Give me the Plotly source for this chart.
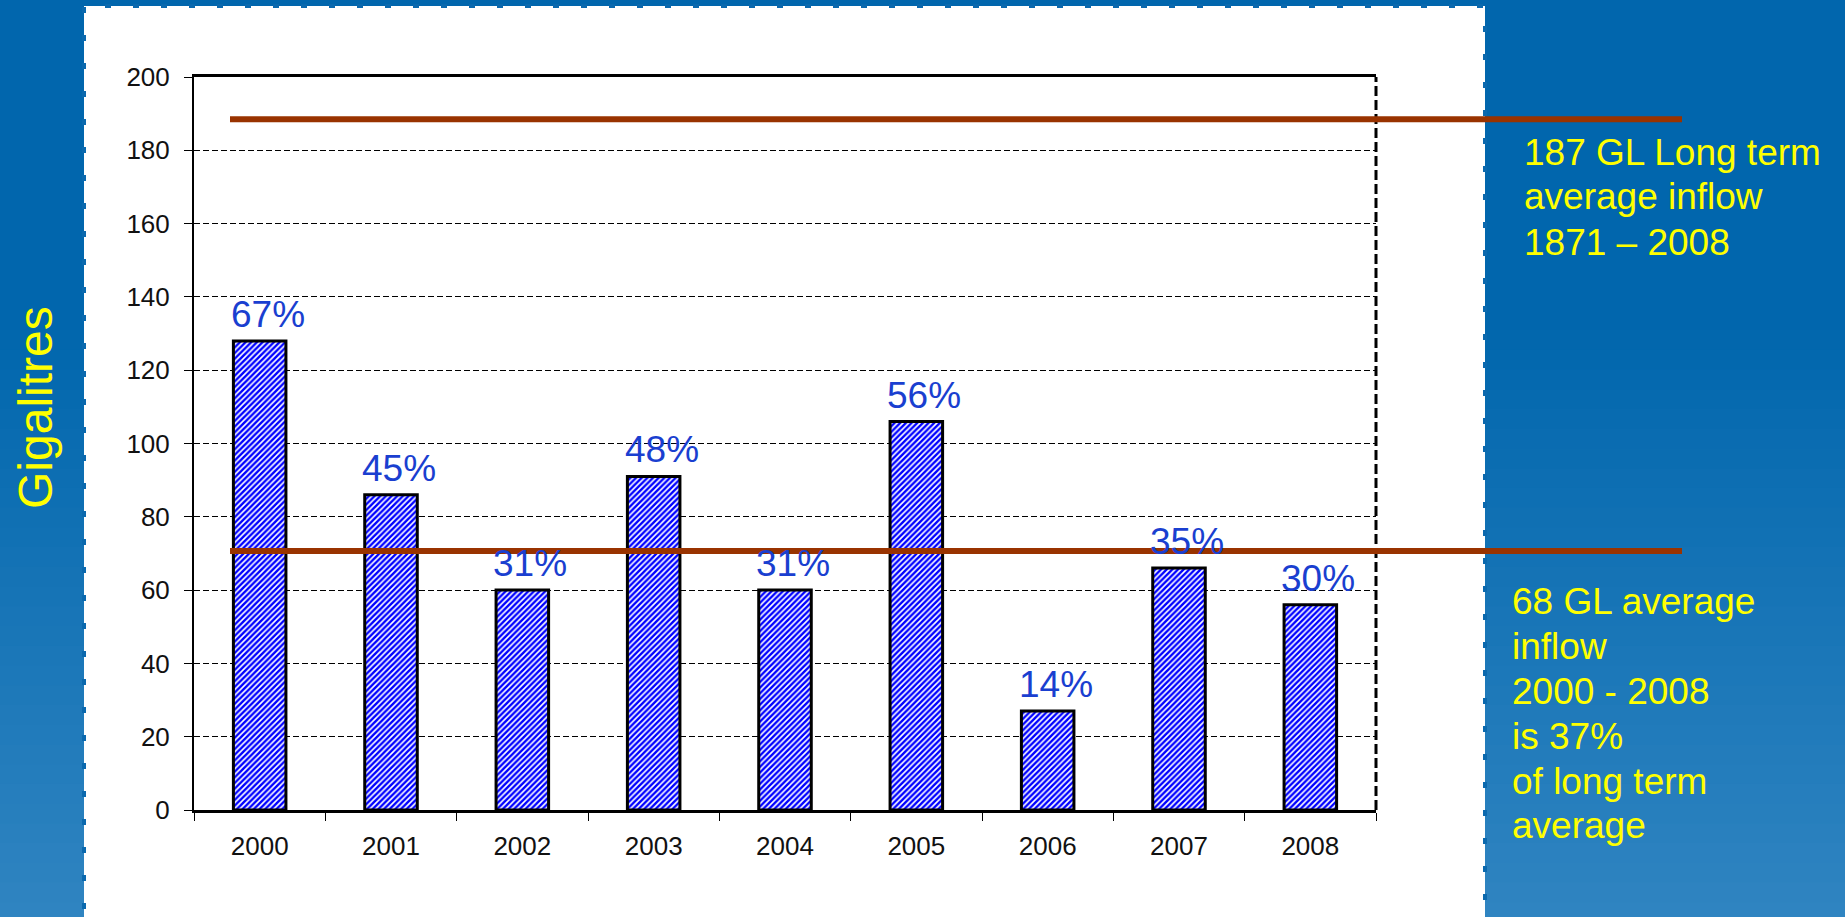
import plotly.graph_objects as go

# ---- data ----
years = ["2000", "2001", "2002", "2003", "2004", "2005", "2006", "2007", "2008"]
inflow_gl = [128, 86, 60, 91, 60, 106, 27, 66, 56]
pct_of_long_term = ["67%", "45%", "31%", "48%", "31%", "56%", "14%", "35%", "30%"]
long_term_line = 188.5
recent_avg_line = 70.7
y_ticks = [0, 20, 40, 60, 80, 100, 120, 140, 160, 180, 200]
note_long_term = ["187 GL Long term", "average inflow", "1871 – 2008"]
note_recent = ["68 GL average", "inflow", "2000 - 2008", "is 37%", "of long term", "average"]
y_title = "Gigalitres"

W, H = 1845, 917
ML, MR, MT, MB = 194, 469, 77, 107
pw = W - ML - MR
ph = H - MT - MB


def px_to_paper_x(px):
    return (px - ML) / pw


def px_to_paper_y(py):
    return (H - MB - py) / ph


FONT = "Liberation Sans, Arial, sans-serif"
YELLOW = "#ffff00"

fig = go.Figure()
fig.add_trace(go.Bar(
    x=years, y=inflow_gl,
    width=0.40,
    marker=dict(
        color="white",
        line=dict(color="black", width=3),
        pattern=dict(shape="/", fgcolor="#0000ff", bgcolor="white",
                     size=4, solidity=0.6, fillmode="replace"),
    ),
    hoverinfo="skip",
))

shapes = []
# background gradient (top dark blue -> lighter at bottom)
top_c = (1, 102, 173)
bot_c = (48, 133, 193)
start_px = 330
n = 30
shapes.append(dict(type="rect", xref="paper", yref="paper",
                   x0=px_to_paper_x(-5), x1=px_to_paper_x(W + 5),
                   y0=px_to_paper_y(-5), y1=px_to_paper_y(start_px + 1),
                   fillcolor="rgb(%d,%d,%d)" % top_c, line=dict(width=0), layer="below"))
for i in range(n):
    y0 = start_px + (H + 5 - start_px) * i / n
    y1 = start_px + (H + 5 - start_px) * (i + 1) / n + 1
    t = (i + 0.5) / n
    c = tuple(int(round(top_c[k] + (bot_c[k] - top_c[k]) * t)) for k in range(3))
    shapes.append(dict(type="rect", xref="paper", yref="paper",
                       x0=px_to_paper_x(-5), x1=px_to_paper_x(W + 5),
                       y0=px_to_paper_y(y1), y1=px_to_paper_y(y0),
                       fillcolor="rgb(%d,%d,%d)" % c, line=dict(width=0), layer="below"))
# white chart panel with notched (dashed) border
shapes.append(dict(type="rect", xref="paper", yref="paper",
                   x0=px_to_paper_x(84), x1=px_to_paper_x(1485),
                   y0=px_to_paper_y(H + 10), y1=px_to_paper_y(6),
                   fillcolor="white",
                   line=dict(color="#0b69ae", width=4, dash="6px,22px"),
                   layer="below"))
# plot frame: right dashed border
shapes.append(dict(type="line", xref="paper", yref="paper",
                   x0=1, x1=1, y0=0, y1=1,
                   line=dict(color="black", width=3, dash="10px,4px")))
# reference lines
for v in (long_term_line, recent_avg_line):
    shapes.append(dict(type="line", xref="paper", yref="y",
                       x0=px_to_paper_x(230), x1=px_to_paper_x(1682),
                       y0=v, y1=v,
                       line=dict(color="#993300", width=6)))

annotations = []
# percentage labels above bars (x given as category index)
for i, (v, p) in enumerate(zip(inflow_gl, pct_of_long_term)):
    annotations.append(dict(text=p, x=i, y=v, xref="x", yref="y",
                            xanchor="center", yanchor="bottom", showarrow=False,
                            xshift=8, yshift=4,
                            font=dict(family=FONT, size=37, color="#1a3fd0")))
# side notes, one line each
for i, line in enumerate(note_long_term):
    annotations.append(dict(text=line, xref="paper", yref="paper",
                            x=px_to_paper_x(1522), y=px_to_paper_y(152 + 45 * i),
                            xanchor="left", yanchor="middle", align="left", showarrow=False,
                            font=dict(family=FONT, size=37, color=YELLOW)))
for i, line in enumerate(note_recent):
    annotations.append(dict(text=line, xref="paper", yref="paper",
                            x=px_to_paper_x(1510), y=px_to_paper_y(601 + 45 * i),
                            xanchor="left", yanchor="middle", align="left", showarrow=False,
                            font=dict(family=FONT, size=37, color=YELLOW)))
annotations.append(dict(text=y_title, xref="paper", yref="paper",
                        x=px_to_paper_x(35), y=px_to_paper_y(408),
                        xanchor="center", yanchor="middle",
                        textangle=-90, showarrow=False,
                        font=dict(family=FONT, size=48, color=YELLOW)))

fig.update_layout(
    width=W, height=H,
    margin=dict(l=ML, r=MR, t=MT, b=MB, pad=0),
    paper_bgcolor="rgb(%d,%d,%d)" % top_c,
    plot_bgcolor="rgba(0,0,0,0)",
    showlegend=False,
    shapes=shapes,
    annotations=annotations,
    font=dict(family=FONT, color="black"),
)
fig.update_xaxes(
    type="category",
    categoryorder="array", categoryarray=years,
    range=[-0.5, len(years) - 0.5], autorange=False,
    showline=True, linecolor="black", linewidth=3, mirror=True,
    ticks="outside", ticklen=8, tickcolor="black", tickwidth=1,
    tickson="boundaries",
    showgrid=False, zeroline=False,
    tickfont=dict(family=FONT, size=26, color="#111111"),
    ticklabelstandoff=11,
)
fig.update_yaxes(
    range=[0, 200], tickvals=y_ticks,
    showline=True, linecolor="black", linewidth=2,
    ticks="outside", ticklen=8, tickcolor="black", tickwidth=1,
    showgrid=True, gridcolor="black", gridwidth=1, griddash="6px,3px",
    zeroline=False,
    tickfont=dict(family=FONT, size=26, color="#111111"),
    ticklabelstandoff=9,
)

fig.write_html("out.html")
